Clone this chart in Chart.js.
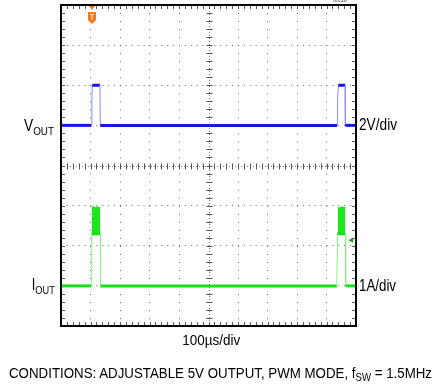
<!DOCTYPE html>
<html>
<head>
<meta charset="utf-8">
<script src="https://cdn.jsdelivr.net/npm/chart.js@4.4.0/dist/chart.umd.min.js"></script>
<style>
    html, body { margin: 0; padding: 0; background: #fff; }
    #wrap { position: relative; width: 433px; height: 387px; overflow: hidden;
            font-family: "Liberation Sans", Arial, sans-serif; color: #000; }
    #scope { position: absolute; left: 0; top: 0; }
    .lbl { position: absolute; white-space: nowrap; line-height: 1; }
    .lbl sub { font-size: 0.72em; vertical-align: baseline; position: relative; top: 0.3em; }
</style>
</head>
<body>
<div id="wrap">
    <canvas id="scope" width="433" height="387"></canvas>
    <div class="lbl" id="lblCorner" style="color:#555">toc15</div>
    <div class="lbl" id="lblVout">V<sub>OUT</sub></div>
    <div class="lbl" id="lblVdiv">2V/div</div>
    <div class="lbl" id="lblIout">I<sub>OUT</sub></div>
    <div class="lbl" id="lblIdiv">1A/div</div>
    <div class="lbl" id="lblTime">100µs/div</div>
    <div class="lbl" id="lblCond">CONDITIONS: ADJUSTABLE 5V OUTPUT, PWM MODE, f<sub>SW</sub> = 1.5MHz</div>
</div>
<script>
// ===== DATA (x in divisions, y in divisions from bottom) ===== //
// V_OUT trace, 2V/div
const vTimes  = [0, 1.03, 1.04, 1.05, 1.06, 1.32, 1.33, 1.35, 9.36, 9.37, 9.38, 9.40, 9.63, 9.64, 9.68, 10];
const vLevels = [5.0, 5.0, 5.55, 5.6, 6.0, 6.0, 5.0, 5.0, 5.0, 5.55, 5.6, 6.0, 6.0, 5.0, 5.0, 5.0];

// I_OUT trace, 1A/div
const iTimes  = [0, 1.03, 1.04, 1.33, 1.34, 1.36, 9.35, 9.36, 9.37, 9.64, 9.65, 9.69, 10];
const iLevels = [1.0, 1.0, 2.3, 2.3, 1.0, 1.0, 1.0, 1.65, 2.3, 2.3, 1.0, 1.0, 1.0];

// inductor ripple envelope during the load pulses
const rippleTimes = [1.04, 1.10, 1.16, 1.22, 1.28, 1.33, 1.34, 9.38, 9.44, 9.50, 9.56, 9.64];
const rippleHigh  = [2.95, 2.98, 2.94, 2.97, 2.95, 2.97, null, 2.96, 2.94, 2.97, 2.95, 2.96];
const rippleLow   = [2.30, 2.27, 2.31, 2.28, 2.30, 2.29, null, 2.28, 2.31, 2.27, 2.30, 2.28];

// scope markers
const triggerTime = 1.05;
const triggerLevel = [{ x: 9.85, y: 2.14 }];

const xDivs = 10;
const yDivs = 8;

const toPoints = (xs, ys) => xs.map((x, i) => ({ x: x, y: ys[i] }));

// faint fast edges, like on the scope screen
function edgeStyle(light, normal, wide) {
    const isEdge = c => Math.abs(c.p1.parsed.y - c.p0.parsed.y) > 0.02;
    return {
        borderColor: c => isEdge(c) ? light : normal,
        borderWidth: c => isEdge(c) ? 1 : wide
    };
}

// ===== SCOPE DECORATION ===== //
const scopeDecor = {
    id: 'scopeDecor',
    beforeDatasetsDraw(chart) {
        const { ctx, chartArea: a, scales: { x, y } } = chart;
        const cx = Math.round(x.getPixelForValue(xDivs / 2)) + 0.5;
        const cy = Math.round(y.getPixelForValue(yDivs / 2)) + 0.5;
        ctx.save();
        // centre cross, finer dots
        ctx.strokeStyle = '#777';
        ctx.lineWidth = 1;
        ctx.setLineDash([1, 2]);
        ctx.beginPath();
        ctx.moveTo(a.left, cy); ctx.lineTo(a.right, cy);
        ctx.moveTo(cx, a.top); ctx.lineTo(cx, a.bottom);
        ctx.stroke();
        ctx.setLineDash([]);

        ctx.strokeStyle = '#555';
        ctx.beginPath();
        for (let k = 1; k < xDivs * 5; k++) {
            const px = Math.round(x.getPixelForValue(k / 5)) + 0.5;
            ctx.moveTo(px, a.top); ctx.lineTo(px, a.top + 4);
            ctx.moveTo(px, a.bottom); ctx.lineTo(px, a.bottom - 4);
            ctx.moveTo(px, cy - 3); ctx.lineTo(px, cy + 3);
        }
        for (let k = 1; k < yDivs * 5; k++) {
            const py = Math.round(y.getPixelForValue(k / 5)) + 0.5;
            ctx.moveTo(a.left, py); ctx.lineTo(a.left + 4, py);
            ctx.moveTo(a.right, py); ctx.lineTo(a.right - 4, py);
            ctx.moveTo(cx - 3, py); ctx.lineTo(cx + 3, py);
        }
        ctx.stroke();
        ctx.restore();
    },
    afterDatasetsDraw(chart) {
        const { ctx, chartArea: a, scales: { x } } = chart;
        ctx.save();
        ctx.strokeStyle = '#000';
        ctx.lineWidth = 2;
        ctx.strokeRect(a.left, a.top, a.right - a.left, a.bottom - a.top);

        // trigger position marker
        const tx = x.getPixelForValue(triggerTime);
        ctx.fillStyle = '#f07a1a';
        ctx.beginPath();
        ctx.moveTo(tx - 3, a.top + 1); ctx.lineTo(tx + 3, a.top + 1); ctx.lineTo(tx, a.top + 5);
        ctx.fill();
        ctx.beginPath();
        ctx.moveTo(tx - 4, a.top + 7);
        ctx.lineTo(tx + 4, a.top + 7);
        ctx.lineTo(tx + 4, a.top + 15);
        ctx.lineTo(tx, a.top + 19);
        ctx.lineTo(tx - 4, a.top + 15);
        ctx.closePath();
        ctx.fill();
        ctx.strokeStyle = '#ffd9b8';
        ctx.lineWidth = 1.2;
        ctx.beginPath();
        ctx.moveTo(tx - 2, a.top + 9.5); ctx.lineTo(tx + 2, a.top + 9.5);
        ctx.moveTo(tx, a.top + 9.5); ctx.lineTo(tx, a.top + 15);
        ctx.stroke();
        ctx.restore();
    }
};

// ===== CHART ===== //
const gridColor = centre => c => c.tick.value === centre ? 'rgba(0,0,0,0)' : '#6e6e6e';

new Chart(document.getElementById('scope'), {
    type: 'line',
    data: {
        datasets: [
            {
                label: 'VOUT',
                data: toPoints(vTimes, vLevels),
                borderColor: '#1616e6',
                borderWidth: 3,
                pointRadius: 0,
                segment: edgeStyle('#8c8cff', '#1616e6', 3)
            },
            {
                label: 'IOUT',
                data: toPoints(iTimes, iLevels),
                borderColor: '#16e016',
                borderWidth: 3,
                pointRadius: 0,
                segment: edgeStyle('#8cef8c', '#16e016', 3)
            },
            {
                label: 'ripple high',
                data: toPoints(rippleTimes, rippleHigh),
                borderColor: '#16e016',
                borderWidth: 1,
                pointRadius: 0,
                fill: false
            },
            {
                label: 'ripple low',
                data: toPoints(rippleTimes, rippleLow),
                borderColor: '#16e016',
                borderWidth: 1,
                pointRadius: 0,
                backgroundColor: '#1ee61e',
                fill: '-1'
            },
            {
                label: 'trigger level',
                data: triggerLevel,
                showLine: false,
                pointStyle: 'triangle',
                rotation: -90,
                pointRadius: 3,
                backgroundColor: '#139c13',
                borderColor: '#139c13',
                borderWidth: 0
            }
        ]
    },
    options: {
        responsive: false,
        animation: false,
        events: [],
        layout: { padding: { left: 61, right: 77, top: 5, bottom: 61 } },
        plugins: { legend: { display: false }, tooltip: { enabled: false } },
        elements: { line: { tension: 0 } },
        scales: {
            x: {
                type: 'linear', min: 0, max: xDivs,
                ticks: { display: false, stepSize: 1 },
                grid: { drawTicks: false, color: gridColor(xDivs / 2) },
                border: { display: false, dash: [1, 7.03] }
            },
            y: {
                type: 'linear', min: 0, max: yDivs,
                ticks: { display: false, stepSize: 1 },
                grid: { drawTicks: false, color: gridColor(yDivs / 2) },
                border: { display: false, dash: [1, 4.9] }
            }
        }
    },
    plugins: [scopeDecor]
});

// ===== LABELS ===== //
// place each label by its baseline and squeeze it to the width in the picture
function placeLabel(id, size, baseline, edge, anchor, width) {
    const el = document.getElementById(id);
    el.style.fontSize = size + 'px';
    el.style.top = (baseline - 0.8465 * size) + 'px';
    const w = el.getBoundingClientRect().width;
    if (anchor === 'right') {
        el.style.left = (edge - w) + 'px';
        el.style.transformOrigin = 'right center';
    } else if (anchor === 'center') {
        el.style.left = (edge - w / 2) + 'px';
        el.style.transformOrigin = 'center center';
    } else {
        el.style.left = edge + 'px';
        el.style.transformOrigin = 'left center';
    }
    el.style.transform = `scaleX(${width / w})`;
}

placeLabel('lblCorner', 10, 2, 333, 'left', 14);
placeLabel('lblVout', 16, 132, 53.5, 'right', 30);
placeLabel('lblVdiv', 16, 131, 359, 'left', 38);
placeLabel('lblIout', 16, 291, 55, 'right', 23);
placeLabel('lblIdiv', 16, 292, 359, 'left', 37);
placeLabel('lblTime', 15, 344.5, 211, 'center', 58);
placeLabel('lblCond', 15, 377.5, 9, 'left', 423);
</script>
</body>
</html>
